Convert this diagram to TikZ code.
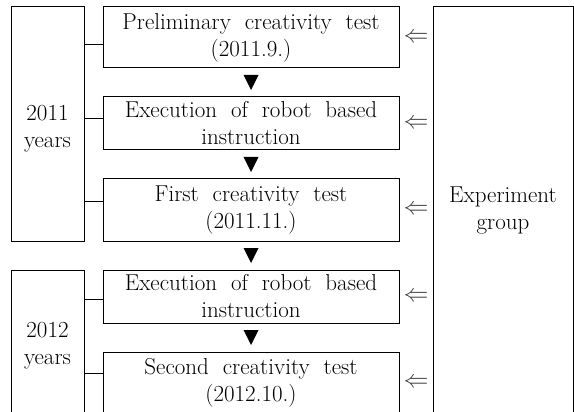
\documentclass[tikz,border=0pt]{standalone}
\usetikzlibrary{calc}
\begin{document}
\begin{tikzpicture}[x=1pt,y=-1pt,
  every node/.style={font=\fontsize{23}{27}\selectfont},
  stepbox/.style={draw=black,line width=1pt,inner sep=0pt,align=center},
  link/.style={draw=black,line width=1pt},
  dbl/.style={text=black!75},
  tri/.style={fill=black}]
\useasboundingbox (0,0) rectangle (574,412);
\clip (0,0) rectangle (574,412);
% center boxes
\node[stepbox,minimum width=296pt,minimum height=61pt] (b1) at (251,37.5) {Preliminary\ \ creativity\ \ test\\(2011.9.)};
\node[stepbox,minimum width=296pt,minimum height=53pt] (b2) at (251,123.5) {Execution\ \ of\ \ robot\ \ based\\instruction};
\node[stepbox,minimum width=296pt,minimum height=62pt] (b3) at (251,210) {First\ \ creativity\ \ test\\(2011.11.)};
\node[stepbox,minimum width=296pt,minimum height=53pt] (b4) at (251,296.5) {Execution\ \ of\ \ robot\ \ based\\instruction};
\node[stepbox,minimum width=296pt,minimum height=62pt] (b5) at (251,383) {Second\ \ creativity\ \ test\\(2012.10.)};
% year boxes
\node[stepbox,minimum width=73pt,minimum height=234pt] (y1) at (47.5,124) {};
\node[align=center,inner sep=0pt] (t1) at (47.5,129) {2011\\years};
\node[stepbox,minimum width=73pt,minimum height=160pt] (y2) at (47.5,350) {};
\node[align=center,inner sep=0pt] (t2) at (47.5,346) {2012\\years};
% right box
\node[stepbox,minimum width=140pt,minimum height=420pt] (g) at (503,217) {};
\node[align=center,inner sep=0pt] (gt) at (503,211) {Experiment\\group};
% connectors year -> steps
\draw[link] (y1.east |- 0,45) -- (b1.west |- 0,45);
\draw[link] (y1.east |- 0,119) -- (b2.west |- 0,119);
\draw[link] (y1.east |- 0,201) -- (b3.west |- 0,201);
\draw[link] (y2.east |- 0,299) -- (b4.west |- 0,299);
\draw[link] (y2.east |- 0,373) -- (b5.west |- 0,373);
% down triangles
\foreach \a/\b in {b1/b2,b2/b3,b3/b4,b4/b5}{
  \coordinate (m) at ($(\a.south)!0.5!(\b.north)$);
  \fill[tri] ($(m)+(-7.5,-7.5)$) -- ($(m)+(7.5,-7.5)$) -- ($(m)+(0,7.5)$) -- cycle;
}
% double arrows
\foreach \b in {b1,b2,b3,b4,b5}{
  \node[dbl] (a\b) at ($(\b.east)!0.5!(g.west |- \b.east)$) {$\Leftarrow$};
}
\end{tikzpicture}
\end{document}
